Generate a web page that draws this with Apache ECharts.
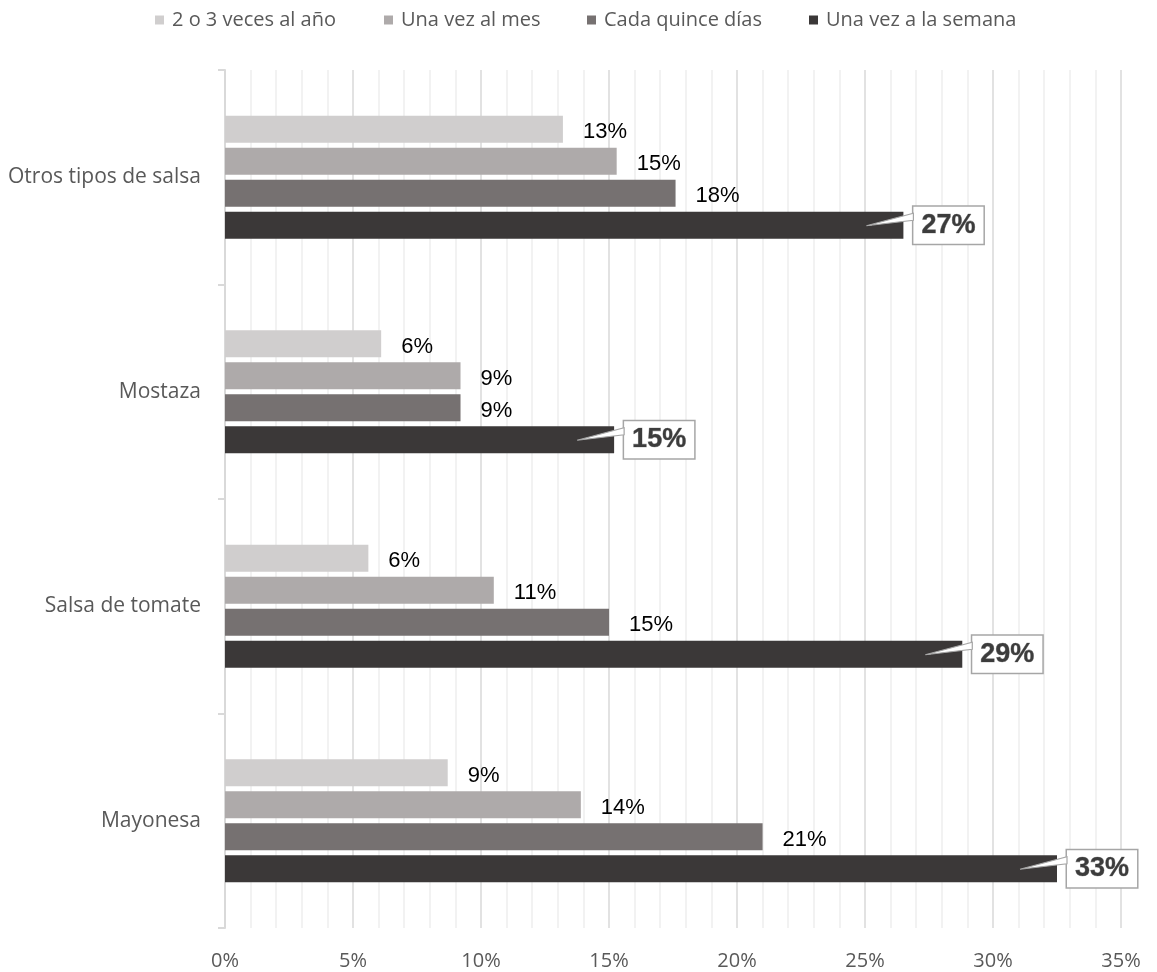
<!DOCTYPE html>
<html>
<head>
<meta charset="utf-8">
<script src="https://cdn.jsdelivr.net/npm/echarts@6/dist/echarts.min.js"></script>
<style>
  html, body { margin: 0; padding: 0; background: #fff; }
  #chart { width: 1157px; height: 972px; }
</style>
</head>
<body>
<div id="chart"></div>
<script>
// Categories, listed top to bottom
const categories = ['Otros tipos de salsa', 'Mostaza', 'Salsa de tomate', 'Mayonesa'];

// Share of respondents (%) per frequency, same order as categories
const dosTresAlAno   = [13.2, 6.1, 5.6, 8.7];
const unaVezAlMes    = [15.3, 9.2, 10.5, 13.9];
const cadaQuinceDias = [17.6, 9.2, 15.0, 21.0];
const unaVezSemana   = [26.5, 15.2, 28.8, 32.5];

const seriesNames = ['2 o 3 veces al año', 'Una vez al mes', 'Cada quince días', 'Una vez a la semana'];
const seriesColors = ['#d0cece', '#aeaaaa', '#767171', '#3b3838'];

// Left edge of each legend entry (legend box, including its 5px padding)
const legendLefts = [150, 379, 582, 804];

const BAR_W = 27;
const BAR_GAP = 5;

const chart = echarts.init(document.getElementById('chart'));

const plainLabel = {
  show: true,
  position: 'right',
  distance: 20,
  offset: [0, 3],
  color: '#000',
  fontFamily: 'Liberation Sans',
  fontSize: 22,
  formatter: p => Math.round(p.value) + '%'
};

const calloutLabel = {
  show: true,
  position: 'right',
  distance: 10,
  backgroundColor: '#fff',
  borderColor: '#a6a6a6',
  borderWidth: 1.5,
  padding: [6, 8, 4, 8],
  color: '#3c3c3c',
  fontFamily: 'Liberation Sans',
  fontWeight: 'bold',
  fontSize: 27,
  textBorderColor: '#9a9a9a',
  textBorderWidth: 0.7,
  formatter: p => Math.round(p.value) + '%'
};

function barSeries(i, values, label) {
  return {
    name: seriesNames[i],
    type: 'bar',
    data: values,
    barWidth: BAR_W,
    barGap: (BAR_GAP / BAR_W * 100).toFixed(1) + '%',
    itemStyle: { color: seriesColors[i] },
    label: label,
    z: 2
  };
}

// Pointer wedge from each callout box back into the end of its bar
const nSeries = 4;
const groupW = nSeries * BAR_W + (nSeries - 1) * BAR_GAP;
const lastOffset = -groupW / 2 + (nSeries - 1) * (BAR_W + BAR_GAP) + BAR_W / 2;

const wedgeSeries = {
  type: 'custom',
  z: 3,
  silent: true,
  data: unaVezSemana.map((v, i) => [v, i]),
  renderItem: function (params, api) {
    const p = api.coord([api.value(0), api.value(1)]);
    const x = p[0];
    const y = p[1] + lastOffset;
    return {
      type: 'polygon',
      shape: { points: [[x - 37, y + 0.5], [x + 10, y - 12], [x + 10, y - 5]] },
      style: { fill: '#fff', stroke: '#a6a6a6', lineWidth: 1.2 }
    };
  }
};

// One legend block per entry so each sits at its own position
const legends = seriesNames.map((name, i) => ({
  data: [name],
  top: 5,
  left: legendLefts[i],
  icon: 'rect',
  itemWidth: 9,
  itemHeight: 9,
  textStyle: { fontFamily: 'Open Sans', fontSize: 20, color: '#595959', padding: [0, 0, 0, 3] }
}));

const option = {
  animation: false,
  backgroundColor: '#fff',
  textStyle: { fontFamily: 'Open Sans' },
  legend: legends,
  grid: { left: 225, right: 36, top: 70, bottom: 44, containLabel: false },
  xAxis: {
    type: 'value',
    min: 0,
    max: 35,
    interval: 5,
    axisLine: { show: false },
    axisTick: { show: false },
    minorTick: { show: false, splitNumber: 5 },
    splitLine: { show: true, lineStyle: { color: '#d9d9d9', width: 1.5 } },
    minorSplitLine: { show: true, lineStyle: { color: '#eeeeee', width: 1.5 } },
    axisLabel: {
      formatter: '{value}%',
      margin: 23,
      fontFamily: 'Open Sans',
      fontSize: 20,
      color: '#595959'
    }
  },
  yAxis: {
    type: 'category',
    inverse: true,
    data: categories,
    axisLine: { show: true, lineStyle: { color: '#d9d9d9', width: 2 } },
    axisTick: { show: true, length: 7, lineStyle: { color: '#d9d9d9', width: 2 } },
    axisLabel: {
      margin: 24,
      fontFamily: 'Open Sans',
      fontSize: 21,
      color: '#595959'
    }
  },
  series: [
    barSeries(0, dosTresAlAno, plainLabel),
    barSeries(1, unaVezAlMes, plainLabel),
    barSeries(2, cadaQuinceDias, plainLabel),
    barSeries(3, unaVezSemana, calloutLabel),
    wedgeSeries
  ]
};

chart.setOption(option);
</script>
</body>
</html>
